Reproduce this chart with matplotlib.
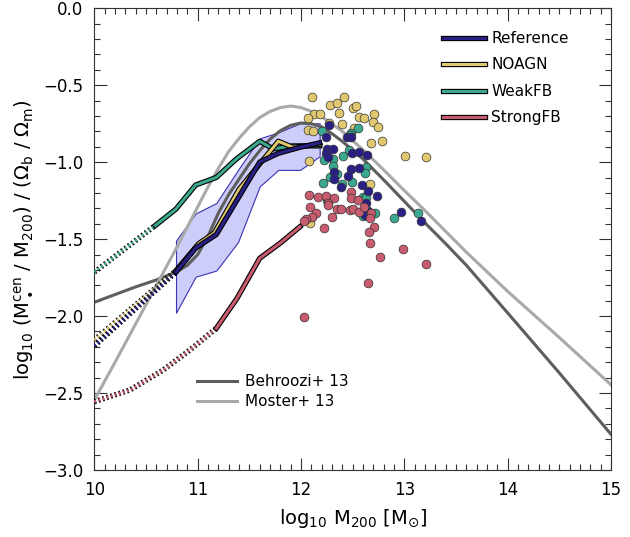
import numpy as np
import matplotlib
matplotlib.use('Agg')
import matplotlib.pyplot as plt
import matplotlib.patheffects as pe
from matplotlib.lines import Line2D
from matplotlib.ticker import MultipleLocator

# --- abundance matching relations ---
behroozi_x = [10.0, 10.2, 10.4, 10.6, 10.8, 10.9, 11.0, 11.1, 11.2, 11.3, 11.4, 11.5, 11.6, 11.7, 11.8, 11.9,
              12.0, 12.1, 12.2, 12.3, 12.4, 12.6, 12.8, 13.0, 13.2, 13.4, 13.6, 14.0, 14.5, 15.0]
behroozi_y = [-1.91, -1.86, -1.81, -1.765, -1.71, -1.67, -1.60, -1.48, -1.33, -1.21, -1.11, -1.01, -0.925, -0.85,
              -0.795, -0.76, -0.745, -0.75, -0.77, -0.815, -0.865, -0.98, -1.115, -1.255, -1.395, -1.53, -1.67,
              -1.98, -2.37, -2.769]

moster_x = [10.0, 10.2, 10.4, 10.6, 10.8, 11.0, 11.1, 11.2, 11.3, 11.4, 11.5, 11.6, 11.7, 11.8, 11.9, 12.0,
            12.1, 12.2, 12.4, 12.6, 12.8, 13.0, 13.2, 13.4, 13.6, 14.0, 14.5, 15.0]
moster_y = [-2.545, -2.30, -2.05, -1.80, -1.55, -1.29, -1.16, -1.04, -0.93, -0.845, -0.77, -0.71, -0.67, -0.645,
            -0.635, -0.645, -0.67, -0.705, -0.80, -0.92, -1.05, -1.185, -1.315, -1.45, -1.585, -1.84, -2.14, -2.447]

# --- simulation medians (solid where resolved, dotted below) ---
ref_x = [10.79, 10.98, 11.18, 11.39, 11.60, 11.78, 11.99, 12.18]
ref_y = [-1.714, -1.558, -1.470, -1.235, -0.999, -0.942, -0.903, -0.874]
ref_dot_x = [10.0, 10.79]
ref_dot_y = [-2.194, -1.714]
ref_hi = [-1.509, -1.333, -1.265, -1.050, -0.845, -0.806, -0.747, -0.747]
ref_lo = [-1.978, -1.744, -1.704, -1.519, -1.157, -1.050, -1.050, -0.962]

noagn_x = [10.79, 11.01, 11.16, 11.40, 11.60, 11.78, 11.92, 12.18]
noagn_y = [-1.704, -1.529, -1.460, -1.177, -1.011, -0.864, -0.903, -0.884]
noagn_dot_x = [10.0, 10.79]
noagn_dot_y = [-2.155, -1.704]

weak_x = [10.59, 10.79, 10.98, 11.18, 11.37, 11.60, 11.73, 11.92, 12.18]
weak_y = [-1.411, -1.304, -1.148, -1.099, -0.981, -0.864, -0.913, -0.894, -0.894]
weak_dot_x = [10.0, 10.59]
weak_dot_y = [-1.714, -1.411]

strong_x = [11.18, 11.38, 11.60, 11.80, 11.99]
strong_y = [-2.079, -1.885, -1.624, -1.525, -1.419]
strong_dot_x = [10.0, 10.345, 10.667, 10.925, 11.18]
strong_dot_y = [-2.556, -2.480, -2.350, -2.220, -2.079]

# --- individual high-mass haloes ---
noagn_pts_x = [12.11, 12.28, 12.35, 12.42, 12.50, 12.53, 12.37, 12.13, 12.18, 12.07, 12.27, 12.40, 12.56, 12.61,
               12.71, 12.70, 12.74, 12.51, 12.07, 12.12, 12.68, 12.78, 13.01, 13.21, 12.08, 12.67, 12.09]
noagn_pts_y = [-0.574, -0.629, -0.613, -0.579, -0.650, -0.635, -0.679, -0.687, -0.687, -0.715, -0.743, -0.754, -0.704, -0.715,
               -0.689, -0.737, -0.769, -0.780, -0.791, -0.798, -0.873, -0.860, -0.960, -0.965, -0.990, -1.142, -1.398]

weak_pts_x = [12.20, 12.48, 12.55, 12.31, 12.41, 12.46, 12.22, 12.31, 12.28, 12.35, 12.21, 12.49, 12.40, 12.63,
              12.62, 12.60, 12.63, 12.72, 12.60, 12.90, 13.13, 12.25, 12.47]
weak_pts_y = [-0.796, -0.812, -0.780, -0.976, -0.960, -0.921, -0.986, -1.025, -1.095, -1.077, -1.138, -1.127, -1.142, -1.034,
              -1.068, -1.225, -1.225, -1.333, -1.350, -1.360, -1.328, -1.246, -0.823]

ref_pts_x = [12.24, 12.27, 12.44, 12.48, 12.25, 12.31, 12.24, 12.26, 12.49, 12.56, 12.64, 12.48, 12.56, 12.32,
             12.45, 12.32, 12.39, 12.59, 12.65, 12.73, 12.63, 12.65, 12.62, 12.97, 13.16]
ref_pts_y = [-0.834, -0.761, -0.839, -0.839, -0.917, -0.917, -0.942, -0.965, -0.938, -0.932, -0.954, -1.047, -1.040, -1.062,
             -1.088, -1.111, -1.159, -1.149, -1.188, -1.218, -1.268, -1.316, -1.344, -1.321, -1.383]

strong_pts_x = [12.08, 12.16, 12.24, 12.32, 12.09, 12.26, 12.26, 12.35, 12.39, 12.47, 12.48, 12.48, 12.55, 12.50,
                12.56, 12.61, 12.68, 12.14, 12.11, 12.05, 12.03, 12.30, 12.67, 12.22, 12.71, 12.66, 12.67, 12.76,
                12.99, 13.21, 12.65, 12.03]
strong_pts_y = [-1.214, -1.225, -1.218, -1.235, -1.294, -1.264, -1.278, -1.307, -1.305, -1.311, -1.193, -1.235, -1.246, -1.305,
                -1.326, -1.289, -1.333, -1.333, -1.359, -1.372, -1.380, -1.359, -1.365, -1.426, -1.424, -1.456, -1.522, -1.618,
                -1.563, -1.662, -1.784, -2.004]

c_ref = '#2a1f84'
c_noagn = '#e0c870'
c_weak = '#3aa98f'
c_strong = '#c95b6e'
c_beh = '#5e5e5e'
c_mos = '#a9a9a9'

outline = [pe.Stroke(linewidth=3.8, foreground='black'), pe.Normal()]

fig = plt.figure(figsize=(6.3, 5.37), dpi=100)
ax = fig.add_axes([0.1498, 0.1248, 0.8202, 0.8597])

# band around the Reference median
ax.fill_between(ref_x, ref_lo, ref_hi, facecolor='#cdcdfa', edgecolor='#3c32b4', lw=0.8, zorder=1)

ax.plot(behroozi_x, behroozi_y, color=c_beh, lw=2.2, zorder=2, solid_joinstyle='round')
ax.plot(moster_x, moster_y, color=c_mos, lw=2.2, zorder=2, solid_joinstyle='round')

for dx, dy, c in [(weak_dot_x, weak_dot_y, c_weak), (noagn_dot_x, noagn_dot_y, c_noagn),
                  (ref_dot_x, ref_dot_y, c_ref), (strong_dot_x, strong_dot_y, c_strong)]:
    ax.plot(dx, dy, color=c, lw=2.2, dashes=(0.6, 0.8), path_effects=outline, zorder=3)

for sx, sy, c in [(weak_x, weak_y, c_weak), (noagn_x, noagn_y, c_noagn),
                  (ref_x, ref_y, c_ref), (strong_x, strong_y, c_strong)]:
    ax.plot(sx, sy, color=c, lw=2.2, path_effects=outline, zorder=4)

for px, py, c in [(noagn_pts_x, noagn_pts_y, c_noagn), (weak_pts_x, weak_pts_y, c_weak),
                  (ref_pts_x, ref_pts_y, c_ref), (strong_pts_x, strong_pts_y, c_strong)]:
    ax.scatter(px, py, s=40, facecolor=c, edgecolor='#333333', linewidth=0.5, zorder=5)

ax.set_xlim(10, 15)
ax.set_ylim(-3.0, 0.0)
ax.xaxis.set_major_locator(MultipleLocator(1))
ax.xaxis.set_minor_locator(MultipleLocator(0.1))
ax.yaxis.set_major_locator(MultipleLocator(0.5))
ax.yaxis.set_minor_locator(MultipleLocator(0.1))
ax.tick_params(which='both', direction='in', top=True, right=True, color='#333333')
ax.tick_params(which='major', length=9, width=0.8, labelsize=12, pad=8)
ax.tick_params(which='minor', length=4.5, width=0.8)
for sp in ax.spines.values():
    sp.set_linewidth(0.8)
    sp.set_color('#333333')

ax.set_xlabel(r'log$_{10}$ M$_{200}$ [M$_{\odot}$]', fontsize=14, labelpad=6)
ax.set_ylabel(r'log$_{10}$ (M$_\bullet^{\rm cen}$ / M$_{200}$) / ($\Omega_{\rm b}$ / $\Omega_{\rm m}$)',
              fontsize=14, labelpad=6)

sim_handles = [Line2D([], [], color=c, lw=2.2, path_effects=outline) for c in (c_ref, c_noagn, c_weak, c_strong)]
leg1 = ax.legend(sim_handles, ['Reference', 'NOAGN', 'WeakFB', 'StrongFB'], loc='upper left',
                 bbox_to_anchor=(0.675, 0.951), frameon=False, fontsize=11, handlelength=2.75,
                 handletextpad=0.4, labelspacing=0.75, borderpad=0, borderaxespad=0)
ax.add_artist(leg1)

am_handles = [Line2D([], [], color=c_beh, lw=2.2), Line2D([], [], color=c_mos, lw=2.2)]
ax.legend(am_handles, ['Behroozi+ 13', 'Moster+ 13'], loc='upper left', bbox_to_anchor=(0.199, 0.208),
          frameon=False, fontsize=11, handlelength=2.6, handletextpad=0.5, labelspacing=0.35,
          borderpad=0, borderaxespad=0)

fig.savefig('out.png', dpi=100, facecolor='white')
